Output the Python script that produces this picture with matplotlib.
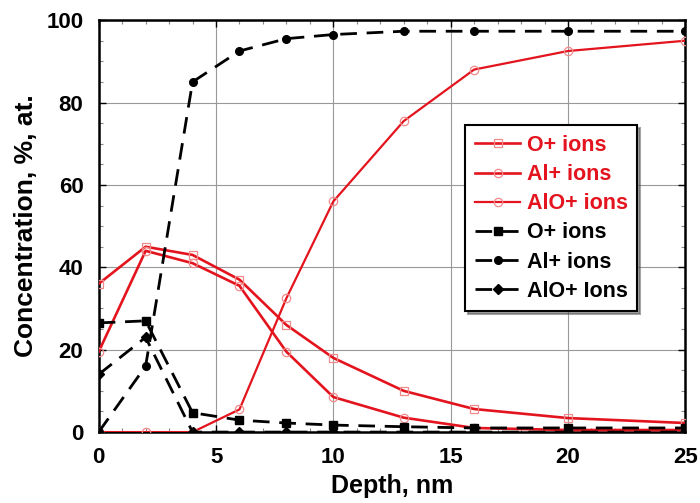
import matplotlib
matplotlib.use("Agg")
import matplotlib.pyplot as plt
from matplotlib.ticker import MultipleLocator

depth = [0, 2, 4, 6, 8, 10, 13, 16, 20, 25]
red_O = [36, 45, 43, 37, 26, 18, 10, 5.6, 3.4, 2.2]
red_Al = [19.5, 44, 41, 35.5, 19.5, 8.5, 3.5, 1, 0.5, 0.5]
red_AlO = [0, 0, 0, 5.5, 32.5, 56, 75.5, 88, 92.5, 95]
blk_O = [26.5, 27, 4.7, 2.9, 2.2, 1.7, 1.3, 1, 1, 1]
blk_Al = [0, 16, 85, 92.5, 95.5, 96.5, 97.3, 97.3, 97.3, 97.3]
blk_AlO = [14, 23, 0, 0, 0, 0, 0, 0, 0, 0]
xticks = [0, 5, 10, 15, 20, 25]
yticks = [0, 20, 40, 60, 80, 100]
labels = ["O+ ions", "Al+ ions", "AlO+ ions", "O+ ions", "Al+ ions", "AlO+ Ions"]

plt.rcParams['font.family'] = ['Liberation Sans', 'DejaVu Sans']
fig = plt.figure(figsize=(7, 5.03), dpi=100)
ax = fig.add_axes([0.141, 0.141, 0.838, 0.819])

red = '#e3141e'
mred = '#f08a8a'
ax.plot(depth, red_O, '-', color=red, lw=1.9, marker='s', ms=6, mfc='none', mec=mred, mew=0.9, label=labels[0], zorder=3)
ax.plot(depth, red_Al, '-', color=red, lw=1.9, marker='o', ms=6, mfc='none', mec=mred, mew=0.9, label=labels[1], zorder=3)
ax.plot(depth, red_AlO, '-', color=red, lw=1.6, marker='o', ms=6, mfc='none', mec=mred, mew=0.9, label=labels[2], zorder=3)
ax.plot(depth, blk_O, '--', color='black', lw=2, dashes=(6, 3.5), marker='s', ms=5.5, label=labels[3], zorder=4)
ax.plot(depth, blk_Al, '--', color='black', lw=2, dashes=(6, 3.5), marker='o', ms=5.5, label=labels[4], zorder=4)
ax.plot(depth, blk_AlO, '--', color='black', lw=2, dashes=(6, 3.5), marker='D', ms=5, label=labels[5], zorder=4)

ax.set_xlim(0, 25)
ax.set_ylim(0, 100)
ax.set_xticks(xticks)
ax.set_yticks(yticks)
ax.xaxis.set_minor_locator(MultipleLocator(1))
ax.yaxis.set_minor_locator(MultipleLocator(5))
ax.tick_params(which='both', direction='in', top=True, right=True)
ax.tick_params(which='major', length=5, width=1, labelsize=16)
ax.tick_params(axis='x', which='major', pad=11)
ax.tick_params(axis='y', which='major', pad=11)
ax.tick_params(which='minor', length=3, width=0.8, color='#888888')
for lab in ax.get_xticklabels() + ax.get_yticklabels():
    lab.set_fontweight('bold')
ax.grid(True, which='major', color='#999999', lw=0.8)
for s in ax.spines.values():
    s.set_linewidth(1.8)
ax.set_xlabel('Depth, nm', fontsize=18, fontweight='bold', labelpad=4)
ax.set_ylabel('Concentration, %, at.', fontsize=19, fontweight='bold', labelpad=6)

leg = ax.legend(loc='upper left', bbox_to_anchor=(0.625, 0.745), prop={'weight': 'bold', 'size': 15.5},
                frameon=True, fancybox=False, shadow=True, edgecolor='black', framealpha=1,
                handlelength=2.1, handletextpad=0.3, labelspacing=0.38, borderpad=0.45, borderaxespad=0)
leg.get_frame().set_linewidth(1.5)
for i, t in enumerate(leg.get_texts()):
    t.set_color(red if i < 3 else 'black')

fig.savefig('out.png', dpi=100)
